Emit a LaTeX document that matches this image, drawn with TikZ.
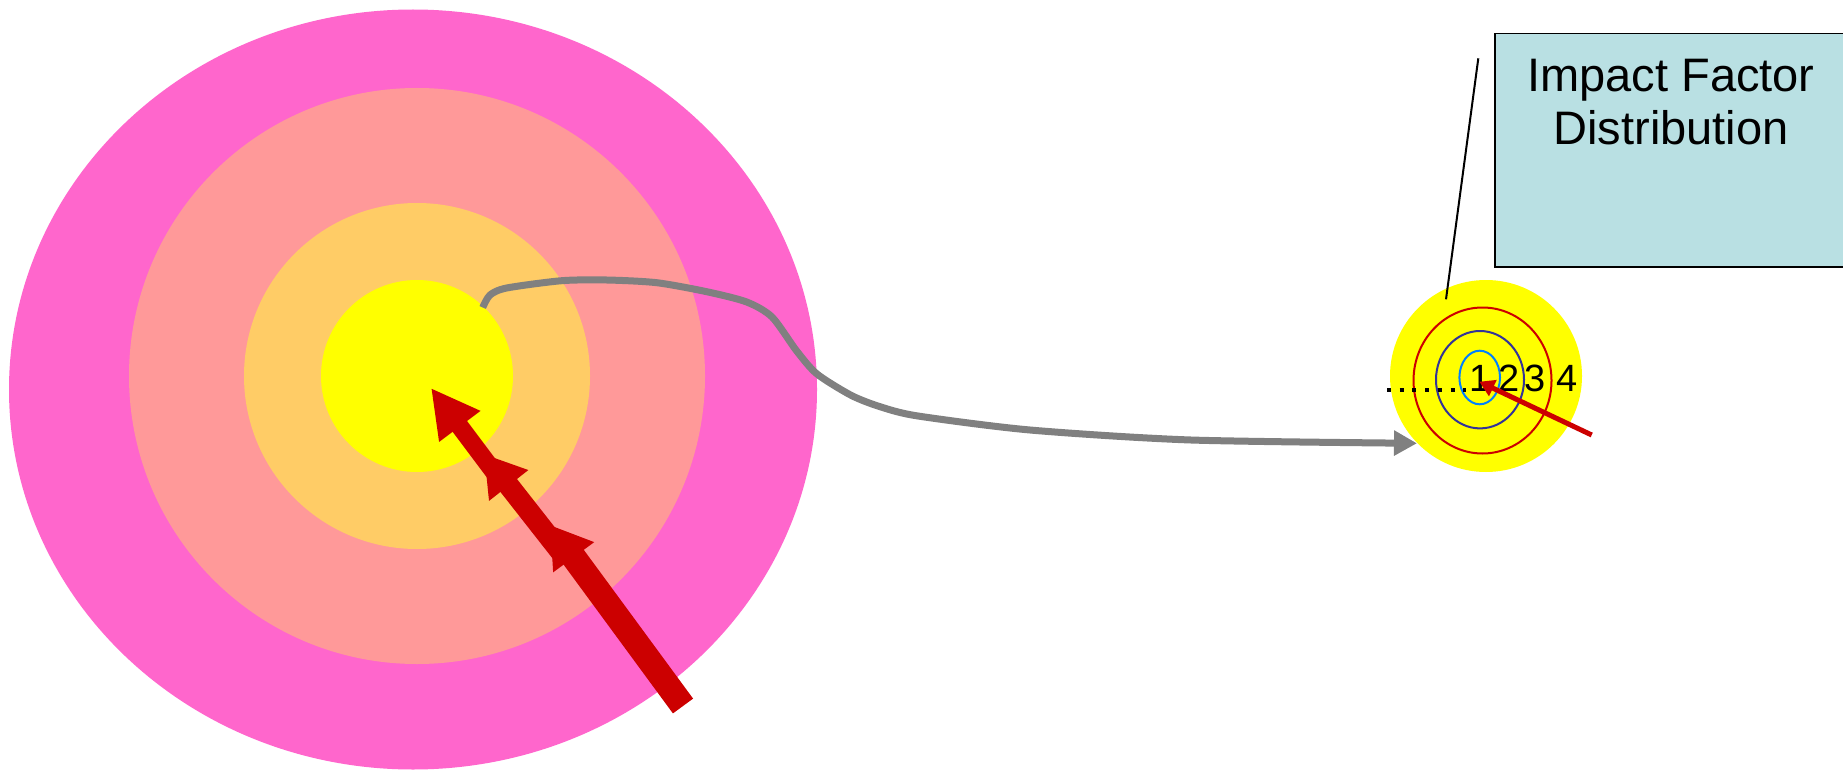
\documentclass[tikz,border=0pt]{standalone}
\usepackage{fontspec}
\setmainfont{Liberation Sans}
\usetikzlibrary{arrows.meta}
\definecolor{cMag}{RGB}{255,102,204}
\definecolor{cSal}{RGB}{255,153,153}
\definecolor{cOra}{RGB}{255,204,102}
\definecolor{cYel}{RGB}{255,255,0}
\definecolor{cRed}{RGB}{204,0,0}
\definecolor{cGray}{RGB}{128,128,128}
\definecolor{cBox}{RGB}{185,224,227}
\definecolor{cDBlue}{RGB}{51,51,153}
\definecolor{cLBlue}{RGB}{0,128,255}
\tikzset{
  bigarrow/.style={draw=cRed, line cap=butt},
  digit/.style={font=\fontsize{38}{38}\selectfont, inner sep=0pt, anchor=base},
  ring/.style={line width=2pt},
}
\begin{document}
\begin{tikzpicture}[x=1pt,y=-1pt]
\clip (0,0) rectangle (1843,770);
\fill[white] (0,0) rectangle (1843,770);
% big target
\fill[cMag] (413,389.5) ellipse [x radius=404pt, y radius=380pt];
\fill[cSal] (417,376) circle [radius=288pt];
\fill[cOra] (417,376) circle [radius=173pt];
\fill[cYel] (417,376) circle [radius=96pt];
\coordinate (bigcenter) at (417,376);
% gray connector
\coordinate (gstart) at (482.7,307.5);
\coordinate (gend) at (1417,443.3);
\draw[cGray, line width=7pt, line join=round, -{Triangle[length=23pt,width=24pt]}]
  plot[smooth, tension=0.45] coordinates {(gstart) (490,295) (506.7,288) (561.7,280.7)
  (606.7,280) (656.7,282.7) (706.7,291.7) (746.7,302) (772,317)
  (796.7,351) (817,374) (851.5,395.5) (881,407) (918,416)
  (1030,430) (1191,440) (gend)};
% big red arrows
\coordinate (atail) at (683,706);
\coordinate (atip) at (550,525);
\coordinate (btail) at (564,556);
\coordinate (btip) at (484,454);
\coordinate (ctail) at (497,476);
\coordinate (ctip) at (431,388);
\draw[bigarrow, line width=25pt, -{Triangle[length=40pt,width=48pt]}] (atail) -- (atip);
\draw[bigarrow, line width=21pt, -{Triangle[length=40pt,width=47pt]}] (btail) -- (btip);
\draw[bigarrow, line width=18pt, -{Triangle[length=48pt,width=48pt]}] (ctail) -- (ctip);
% small target
\node[circle, fill=cYel, minimum size=192pt, inner sep=0pt] (small) at (1486,376) {};
\draw[cRed, ring] (1482.5,380.5) ellipse [x radius=69pt, y radius=73pt];
\draw[cDBlue, ring] (1480,379.7) ellipse [x radius=44pt, y radius=48.7pt];
\draw[cLBlue, ring] (1479.7,377.5) ellipse [x radius=20.3pt, y radius=26.8pt];
\coordinate (dotA) at (1387,390);
\coordinate (dotB) at (1466,390);
\draw[black, line width=4pt, dash pattern=on 4pt off 8.7pt] (dotA) -- (dotB);
\node[digit] (d1) at (1480,391.7) {1};
\node[digit] (d2) at (1509.5,391.7) {2};
\node[digit] (d3) at (1535,391.7) {3};
\node[digit] (d4) at (1567.5,391.7) {4};
\coordinate (rtail) at (1591.7,435);
\coordinate (rtip) at (1479.3,381.7);
\draw[cRed, line width=5pt, -{Triangle[length=15pt,width=17pt]}] (rtail) -- (rtip);
% label box
\node[draw=black, line width=1.5pt, fill=cBox, anchor=north west, minimum width=380pt, minimum height=233pt, inner sep=0pt] (box) at (1494,33) {};
\node[align=center, anchor=base, inner sep=0pt, font=\fontsize{47}{53.3}\selectfont] (label) at (1671,145) {Impact Factor\\Distribution};
\coordinate (lineTop) at (1478.3,58.3);
\coordinate (lineBot) at (1446,299.3);
\draw[black, line width=2pt] (lineTop) -- (lineBot);
\end{tikzpicture}
\end{document}
